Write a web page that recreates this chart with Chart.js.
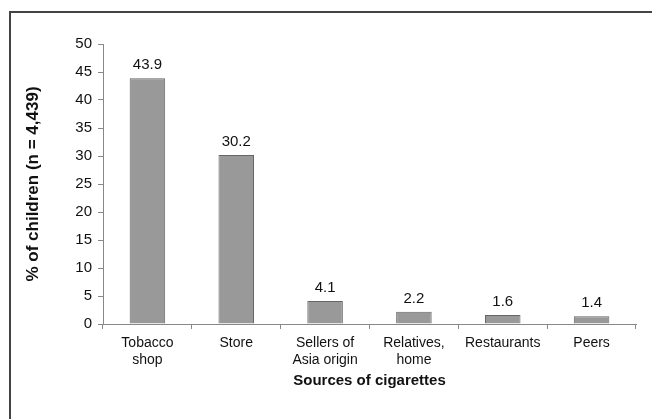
<!DOCTYPE html>
<html>
<head>
<meta charset="utf-8">
<script src="https://cdn.jsdelivr.net/npm/chart.js@4"></script>
<style>
  html, body { margin: 0; padding: 0; background: #fff; }
  #wrap { position: relative; width: 652px; height: 419px; overflow: hidden; }
  #frame { position: absolute; left: 9px; top: 11px; width: 700px; height: 500px;
           border-left: 2px solid #444; border-top: 2px solid #444; }
  canvas { position: absolute; left: 0; top: 0; }
</style>
</head>
<body>
<div id="wrap">
  <div id="frame"></div>
  <canvas id="chart" width="652" height="419"></canvas>
</div>
<script>
const sources = [['Tobacco', 'shop'], 'Store', ['Sellers of', 'Asia origin'], ['Relatives,', 'home'], 'Restaurants', 'Peers'];
const percents = [43.9, 30.2, 4.1, 2.2, 1.6, 1.4];

const valueLabels = {
    id: 'valueLabels',
    afterDatasetsDraw(chart) {
        const ctx = chart.ctx;
        const meta = chart.getDatasetMeta(0);
        ctx.save();
        ctx.font = '15px "Liberation Sans", Arial, sans-serif';
        ctx.fillStyle = '#111';
        ctx.textAlign = 'center';
        ctx.textBaseline = 'middle';
        meta.data.forEach((bar, i) => {
            ctx.fillText(percents[i].toFixed(1), bar.x, bar.y - 13);
        });
        ctx.restore();
    }
};

const ctx = document.getElementById('chart').getContext('2d');
new Chart(ctx, {
    type: 'bar',
    data: {
        labels: sources,
        datasets: [{
            data: percents,
            backgroundColor: '#999999',
            borderColor: '#666666',
            borderWidth: 1,
            barPercentage: 0.4,
            categoryPercentage: 1
        }]
    },
    options: {
        responsive: false,
        animation: false,
        layout: { padding: { left: 0, top: 44, right: 16, bottom: 25 } },
        plugins: {
            legend: { display: false },
            tooltip: { enabled: false }
        },
        scales: {
            y: {
                min: 0,
                max: 50,
                ticks: {
                    stepSize: 5,
                    color: '#111',
                    padding: 6,
                    font: { size: 15, family: '"Liberation Sans", Arial, sans-serif' }
                },
                grid: { drawOnChartArea: false, tickLength: 5, color: '#888' },
                border: { color: '#888' },
                title: {
                    display: true,
                    text: '% of children (n = 4,439)',
                    color: '#111',
                    padding: { top: 23 },
                    font: { size: 17, weight: 'bold', family: '"Liberation Sans", Arial, sans-serif' }
                },
                afterFit(scale) { scale.width = 103; }
            },
            x: {
                ticks: {
                    color: '#111',
                    padding: 6,
                    maxRotation: 0,
                    font: { size: 14, family: '"Liberation Sans", Arial, sans-serif' }
                },
                grid: { drawOnChartArea: false, tickLength: 5, color: '#888', offset: true },
                border: { color: '#888' },
                title: {
                    display: true,
                    text: 'Sources of cigarettes',
                    color: '#111',
                    padding: { bottom: 4 },
                    font: { size: 15, weight: 'bold', family: '"Liberation Sans", Arial, sans-serif' }
                },
                afterFit(scale) { scale.height = 70; }
            }
        }
    },
    plugins: [valueLabels]
});
</script>
</body>
</html>
